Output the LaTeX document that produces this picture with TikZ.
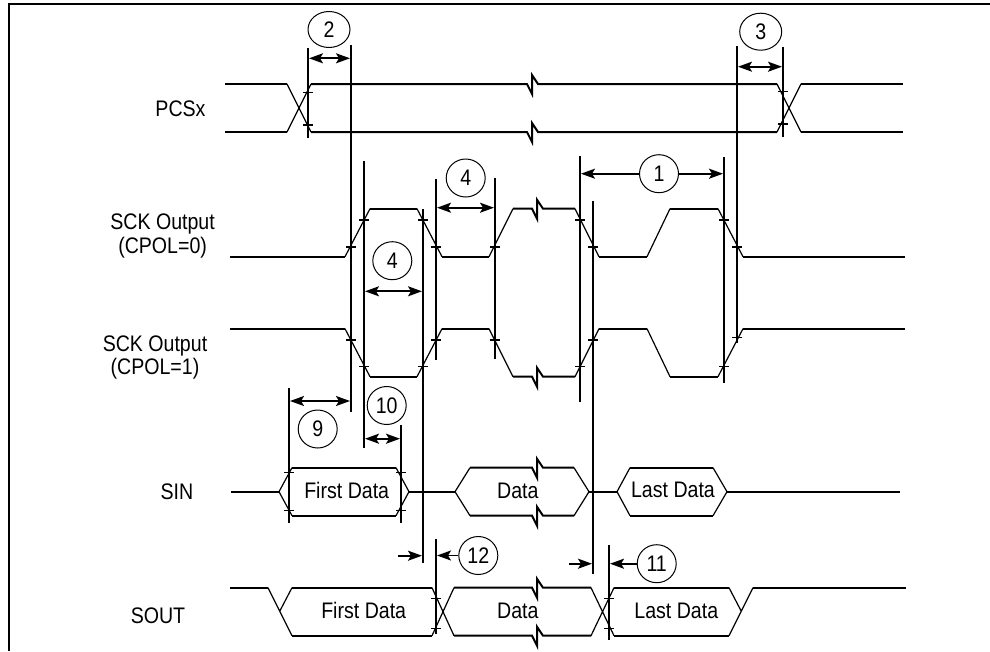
\documentclass[tikz,border=0pt]{standalone}
\usepackage{fontspec}
\setmainfont[FakeStretch=0.87]{Liberation Sans}
\usetikzlibrary{arrows.meta, shapes.geometric}

\tikzset{
	level/.style = {line width=2pt},
	edge/.style = {line width=1.2pt},
	marker/.style = {line width=2pt},
	span/.style = {line width=1.8pt, {Stealth[length=14pt,width=10pt,inset=3pt]}-{Stealth[length=14pt,width=10pt,inset=3pt]}},
	leader/.style = {line width=1.8pt, -{Stealth[length=14pt,width=10pt,inset=3pt]}},
	tag/.style = {draw, ellipse, line width=1pt, inner sep=0pt, minimum width=39pt, minimum height=38pt, font=\fontsize{22.5}{23}\selectfont},
	sig/.style = {font=\fontsize{22.5}{23.5}\selectfont, align=center, inner sep=0pt},
	txt/.style = {font=\fontsize{22.5}{23}\selectfont, anchor=base, inner sep=0pt},
}

\begin{document}
\begin{tikzpicture}[x=1pt, y=-1pt]
	\useasboundingbox (0,0) rectangle (990,651);
	
	\def\zig{-- ++(5,10) -- ++(0,-19) -- ++(6,9)}
	\def\ts{5}
	
	%frame
	\draw [level] (990,4.2) -- (9,4.2) -- (9,651);
	
	%PCSx
	\def\pH{84}
	\def\pL{132}
	\draw [level] (225,\pH) -- (287,\pH);
	\draw [level] (225,\pL) -- (287,\pL);
	\draw [level] (311,\pH) -- (527,\pH) \zig -- (777,\pH);
	\draw [level] (311,\pL) -- (527,\pL) \zig -- (777,\pL);
	\draw [level] (801,\pH) -- (903,\pH);
	\draw [level] (801,\pL) -- (903,\pL);
	\draw [edge] (287,\pH) -- (311,\pL) (287,\pL) -- (311,\pH);
	\draw [edge] (777,\pH) -- (801,\pL) (777,\pL) -- (801,\pH);
	
	%SCK, CPOL=0
	\def\aH{208.7}
	\def\aL{256.7}
	\draw [level] (230,\aL) -- (345,\aL);
	\draw [level] (370,\aH) -- (417,\aH);
	\draw [level] (442,\aL) -- (489,\aL);
	\draw [level] (513,\aH) -- (532,\aH) \zig -- (575,\aH);
	\draw [level] (599,\aL) -- (647,\aL);
	\draw [level] (670,\aH) -- (718,\aH);
	\draw [level] (743,\aL) -- (905,\aL);
	\draw [edge] (345,\aL) -- (370,\aH) (417,\aH) -- (442,\aL) (489,\aL) -- (513,\aH);
	\draw [edge] (575,\aH) -- (599,\aL) (647,\aL) -- (670,\aH) (718,\aH) -- (743,\aL);
	
	%SCK, CPOL=1
	\def\bH{328.7}
	\def\bL{376.7}
	\draw [level] (230,\bH) -- (345,\bH);
	\draw [level] (370,\bL) -- (417,\bL);
	\draw [level] (442,\bH) -- (489,\bH);
	\draw [level] (513,\bL) -- (532,\bL) \zig -- (575,\bL);
	\draw [level] (599,\bH) -- (647,\bH);
	\draw [level] (670,\bL) -- (718,\bL);
	\draw [level] (743,\bH) -- (905,\bH);
	\draw [edge] (345,\bH) -- (370,\bL) (417,\bL) -- (442,\bH) (489,\bH) -- (513,\bL);
	\draw [edge] (575,\bL) -- (599,\bH) (647,\bH) -- (670,\bL) (718,\bL) -- (743,\bH);
	
	%SIN
	\def\cH{467.7}
	\def\cM{491.7}
	\def\cL{515.7}
	\draw [level] (231,\cM) -- (279,\cM);
	\draw [level] (409,\cM) -- (455,\cM);
	\draw [level] (589,\cM) -- (617,\cM);
	\draw [level] (727,\cM) -- (900,\cM);
	\draw [level] (292,\cH) -- (396,\cH);
	\draw [level] (292,\cL) -- (396,\cL);
	\draw [level] (470,\cH) -- (532,\cH) \zig -- (574,\cH);
	\draw [level] (470,\cL) -- (532,\cL) \zig -- (574,\cL);
	\draw [level] (630,\cH) -- (713,\cH);
	\draw [level] (630,\cL) -- (713,\cL);
	\draw [edge] (292,\cH) -- (279,\cM) -- (292,\cL) (396,\cH) -- (409,\cM) -- (396,\cL);
	\draw [edge] (470,\cH) -- (455,\cM) -- (470,\cL) (574,\cH) -- (589,\cM) -- (574,\cL);
	\draw [edge] (630,\cH) -- (617,\cM) -- (630,\cL) (713,\cH) -- (727,\cM) -- (713,\cL);
	
	%SOUT
	\def\dH{587.7}
	\def\dM{610.7}
	\def\dL{635.7}
	\draw [level] (230,\dH) -- (268,\dH);
	\draw [level] (292,\dH) -- (432,\dH);
	\draw [level] (292,\dL) -- (432,\dL);
	\draw [level] (454,\dH) -- (532,\dH) \zig -- (591,\dH);
	\draw [level] (454,\dL) -- (532,\dL) \zig -- (591,\dL);
	\draw [level] (614,\dH) -- (729,\dH);
	\draw [level] (614,\dL) -- (729,\dL);
	\draw [level] (753,\dH) -- (906,\dH);
	\draw [edge] (268,\dH) -- (292,\dL) (280,\dM) -- (292,\dH);
	\draw [edge] (432,\dH) -- (454,\dL) (432,\dL) -- (454,\dH);
	\draw [edge] (591,\dH) -- (614,\dL) (591,\dL) -- (614,\dH);
	\draw [edge] (729,\dH) -- (741,\dM) (729,\dL) -- (753,\dH);
	
	%timing markers
	\draw [marker] (289,388) -- (289,523);
	\draw [marker] (308,48) -- (308,138);
	\draw [marker] (351,45) -- (351,412);
	\draw [marker] (364,161) -- (364,448);
	\draw [marker] (401,425) -- (401,523);
	\draw [marker] (423,209) -- (423,563);
	\draw [marker] (436,179) -- (436,360);
	\draw [marker] (436,539) -- (436,634);
	\draw [marker] (494.5,178) -- (494.5,359);
	\draw [marker] (580,156) -- (580,402);
	\draw [marker] (593,201) -- (593,574);
	\draw [marker] (609,545) -- (609,640);
	\draw [marker] (724,157) -- (724,383);
	\draw [marker] (737,46) -- (737,343);
	\draw [marker] (783,47) -- (783,137);
	
	%crossing ticks
	\foreach \tx/\ty in {308/92.7, 308/125, 783/91.7, 783/124,
		351/247, 364/220, 423/220, 436/247, 494.5/247, 580/220, 593/247, 724/220, 737/247,
		351/340, 364/366.7, 423/366.7, 436/340, 494.5/340, 580/366.7, 593/340, 724/366.7, 737/337.7,
		289/472.3, 289/510.7, 401/472.3, 401/510.7,
		436/598.3, 436/628.3, 609/598.3, 609/628.3}
		\draw [line width=1.5pt] (\tx-\ts,\ty) -- (\tx+\ts,\ty);
	
	%numbered tags
	\node [tag] (t1) at (659,173.7) {1};
	\node [tag, minimum width=42pt, minimum height=36pt] (t2) at (329,29.5) {2};
	\node [tag, minimum width=42pt, minimum height=37pt] (t3) at (760.7,31.7) {3};
	\node [tag] (t4a) at (465.7,178) {4};
	\node [tag] (t4b) at (392.3,260.7) {4};
	\node [tag] (t9) at (317.7,429) {9};
	\node [tag] (t10) at (386.7,405.5) {10};
	\node [tag] (t11) at (656.7,563.7) {11};
	\node [tag] (t12) at (478.3,555.5) {12};
	
	%spans
	\draw [span] (309,58.3) -- (350,58.3);
	\draw [span] (738,66.7) -- (782,66.7);
	\draw [span] (437,207.7) -- (494,207.7);
	\draw [span] (365,291.3) -- (422,291.3);
	\draw [span] (290,401) -- (350,401);
	\draw [span] (365,438.7) -- (400,438.7);
	\draw [leader] (t1.west) -- (581,173.7);
	\draw [leader] (t1.east) -- (723,173.7);
	\draw [leader] (398,555.7) -- (422,555.7);
	\draw [leader] (t12.west) -- (437,555.5);
	\draw [leader] (569,563.7) -- (592,563.7);
	\draw [leader] (t11.west) -- (610,563.7);
	
	%signal names
	\node [sig] (pcs) at (180.5,108.5) {PCSx};
	\node [sig] (sck0) at (162.6,236) {SCK Output\\(CPOL=0)};
	\node [sig] (sck1) at (155,357.5) {SCK Output\\(CPOL=1)};
	\node [sig] (sin) at (177,491.7) {SIN};
	\node [sig] (sout) at (158,615.5) {SOUT};
	
	%data labels
	\node [txt] (d1) at (346.7,498) {First Data};
	\node [txt] (d2) at (517.8,498) {Data};
	\node [txt] (d3) at (673,497) {Last Data};
	\node [txt] (d4) at (363.7,618.3) {First Data};
	\node [txt] (d5) at (517.8,618.3) {Data};
	\node [txt] (d6) at (676.3,618.3) {Last Data};
\end{tikzpicture}
\end{document}
